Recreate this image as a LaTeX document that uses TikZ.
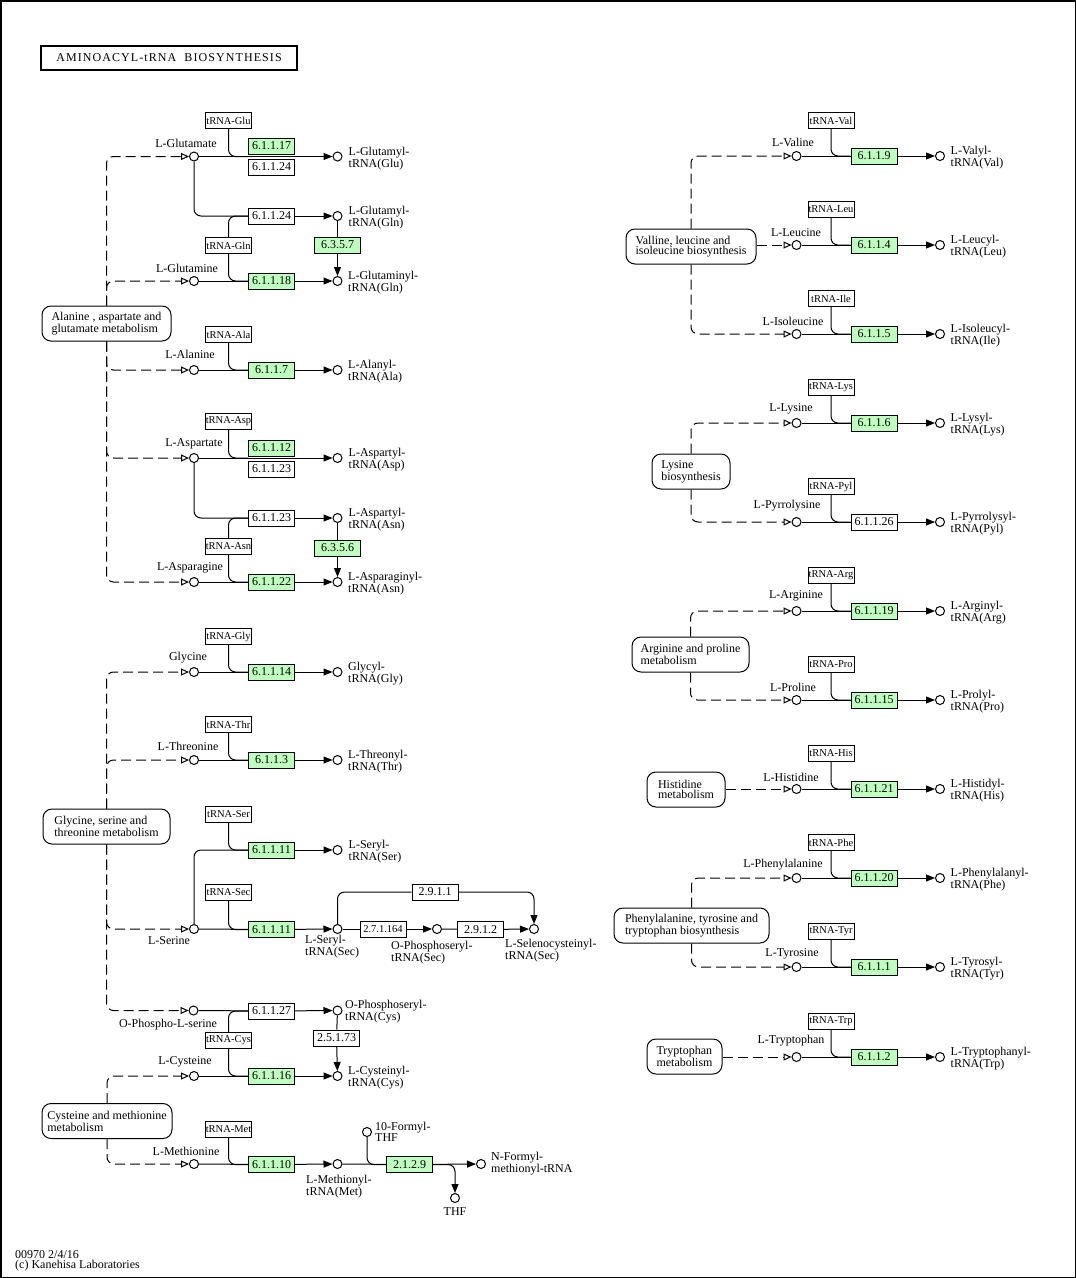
\documentclass[tikz,border=0pt]{standalone}
\usepackage{fontspec}
\setmainfont{Liberation Serif}
\newfontfamily\titlefont[LetterSpace=9]{Liberation Serif}
\usetikzlibrary{arrows.meta,calc}
\definecolor{kgreen}{HTML}{BFFFBF}
\newcommand{\kfs}{\fontsize{12}{10.5}\selectfont}
\newcommand{\kft}{\fontsize{10.5}{10}\selectfont}
\tikzset{
  enz/.style={draw, fill=kgreen, line width=1pt, minimum width=46pt, minimum height=16pt, inner sep=0pt, font=\kfs},
  enzw/.style={enz, fill=white},
  trna/.style={draw, fill=white, line width=1pt, minimum width=46pt, minimum height=16pt, inner sep=0pt, font=\kft},
  cpd/.style={circle, draw, fill=white, line width=1pt, minimum size=9pt, inner sep=0pt},
  lbl/.style={inner sep=0pt, font=\kfs},
  plbl/.style={inner sep=0pt, font=\kfs, align=left, anchor=west},
  mapbox/.style={draw, line width=1pt, rounded corners=9pt, inner sep=0pt, minimum height=35pt, align=left, font=\kfs},
  rx/.style={line width=1pt},
  rc/.style={rounded corners=7pt},
  dsh/.style={line width=1pt, dash pattern=on 10pt off 5pt, rounded corners=7pt},
  arr/.style={-{Triangle[length=9pt,width=7pt]}},
  oarr/.style={-{Triangle[open,length=8pt,width=7pt]}},
}
\newcommand{\rxn}[9]{%
  \node[cpd] (#1s) at (#2,#3) {};
  \node[cpd] (#1p) at (#2+143.5,#3) {};
  \node[#6] (#1e) at (#2+77.5,#3) {#5};
  \node[trna] (#1t) at (#2+34.5,#3-35.5) {#4};
  \node[lbl] (#1a) at (#8) {#7};
  \node[plbl] (#1l) at (#2+154,#3+2) {#9};
  \draw[rx] (#1s) -- (#1e);
  \draw[rx,arr] (#1e) -- (#1p);
  \draw[rx,rc] (#1t.south) |- (#1e.west);
}
\begin{document}
\begin{tikzpicture}[x=1pt,y=-1pt]
\useasboundingbox (0,0) rectangle (1076,1278);
\draw[line width=1.5pt] (0.75,0.75) rectangle (1075.25,1277.25);
% title
\node[draw, line width=2pt, minimum width=256pt, minimum height=24pt, inner sep=0pt, font=\titlefont\fontsize{12}{12}\selectfont] (title) at (169,57.5) {AMINOACYL-tRNA\ \ BIOSYNTHESIS};
\node[inner sep=0pt, align=left, anchor=west, font=\fontsize{12}{10.5}\selectfont] (footer) at (15,1261) {00970 2/4/16\\(c) Kanehisa Laboratories};

% ================= LEFT COLUMN =================
% pathway maps
\node[mapbox, minimum width=129pt] (mapA) at (106.5,323.5) {Alanine , aspartate and\\glutamate metabolism};
\node[mapbox, minimum width=127pt] (mapG) at (106.5,826.5) {Glycine, serine and\\threonine metabolism};
\node[mapbox, minimum width=130pt] (mapC) at (107,1121) {Cysteine and methionine\\metabolism};

% Glutamate
\node[cpd] (glus) at (194,156.5) {};
\node[cpd] (glup) at (337.5,156.5) {};
\node[enz] (e17) at (271.5,146) {6.1.1.17};
\node[enzw] (e24a) at (271.5,167) {6.1.1.24};
\node[trna] (glut) at (228.5,120.5) {tRNA-Glu};
\node[lbl] (glua) at (186,143) {L-Glutamate};
\node[plbl] (glul) at (348.5,158.5) {L-Glutamyl-\\tRNA(Glu)};
\draw[rx,arr] (glus) -- (glup);
\draw[rx,rc] (glut.south) |- (e17.west |- glus);
% Glu -> Gln-tRNA branch
\node[enzw] (e24b) at (271.5,216) {6.1.1.24};
\node[cpd] (gqp) at (337.5,216) {};
\node[plbl] (gql) at (348.5,218) {L-Glutamyl-\\tRNA(Gln)};
\draw[rx,rc] (glus) |- (e24b);
\draw[rx,arr] (e24b) -- (gqp);
% Glutamine
\rxn{gln}{194}{281}{tRNA-Gln}{6.1.1.18}{enz}{L-Glutamine}{187,268}{L-Glutaminyl-\\tRNA(Gln)}
\draw[rx,rc] (glnt.north) |- (e24b.west);
\node[enz] (e357) at (337.5,245) {6.3.5.7};
\draw[rx] (gqp) -- (e357);
\draw[rx,arr] (e357) -- (glnp);

% Alanine
\rxn{ala}{194}{370}{tRNA-Ala}{6.1.1.7}{enz}{L-Alanine}{190,354}{L-Alanyl-\\tRNA(Ala)}

% Aspartate
\node[cpd] (asps) at (194,458) {};
\node[cpd] (aspp) at (337.5,458) {};
\node[enz] (e12) at (271.5,448) {6.1.1.12};
\node[enzw] (e23a) at (271.5,469) {6.1.1.23};
\node[trna] (aspt) at (228.5,421.5) {tRNA-Asp};
\node[lbl] (aspa) at (194,444) {L-Aspartate};
\node[plbl] (aspl) at (348.5,460) {L-Aspartyl-\\tRNA(Asp)};
\draw[rx,arr] (asps) -- (aspp);
\draw[rx,rc] (aspt.south) |- (e12.west |- asps);
% Asp -> Asn-tRNA branch
\node[enzw] (e23b) at (271.5,518) {6.1.1.23};
\node[cpd] (adp) at (337.5,518) {};
\node[plbl] (adl) at (348.5,520) {L-Aspartyl-\\tRNA(Asn)};
\draw[rx,rc] (asps) |- (e23b);
\draw[rx,arr] (e23b) -- (adp);
% Asparagine
\rxn{asn}{194}{582}{tRNA-Asn}{6.1.1.22}{enz}{L-Asparagine}{190,568}{L-Asparaginyl-\\tRNA(Asn)}
\draw[rx,rc] (asnt.north) |- (e23b.west);
\node[enz] (e356) at (337.5,548) {6.3.5.6};
\draw[rx] (adp) -- (e356);
\draw[rx,arr] (e356) -- (asnp);

% Glycine, Threonine
\rxn{gly}{194}{672}{tRNA-Gly}{6.1.1.14}{enz}{Glycine}{188,658}{Glycyl-\\tRNA(Gly)}
\rxn{thr}{194}{760}{tRNA-Thr}{6.1.1.3}{enz}{L-Threonine}{188,746}{L-Threonyl-\\tRNA(Thr)}

% Serine / Sec
\node[cpd] (sers) at (194,929) {};
\node[lbl] (sera) at (169,941) {L-Serine};
\node[enz] (sece) at (271.5,929.5) {6.1.1.11};
\node[trna] (sect) at (228.5,892.5) {tRNA-Sec};
\node[cpd] (secp) at (337.5,929) {};
\node[plbl, anchor=north west] (secl) at (305,935) {L-Seryl-\\tRNA(Sec)};
\draw[rx] (sers) -- (sece);
\draw[rx,arr] (sece) -- (secp);
\draw[rx,rc] (sect.south) |- (sece.west);
% Ser-tRNA(Ser)
\node[enz] (sere) at (271.5,850) {6.1.1.11};
\node[cpd] (serp) at (337.5,850) {};
\node[trna] (sert) at (228.5,814.5) {tRNA-Ser};
\node[plbl] (serl) at (348.5,852) {L-Seryl-\\tRNA(Ser)};
\draw[rx,rc] (sers) |- (sere);
\draw[rx,arr] (sere) -- (serp);
\draw[rx,rc] (sert.south) |- (sere.west);
% Selenocysteine chain
\node[enzw, font=\fontsize{10.5}{10}\selectfont] (e27164) at (383,929) {2.7.1.164};
\node[cpd] (opsec) at (437,929) {};
\node[plbl, anchor=north west] (opsecl) at (391,941) {O-Phosphoseryl-\\tRNA(Sec)};
\node[enzw] (e2912) at (480.5,929.5) {2.9.1.2};
\node[cpd] (selc) at (534,929) {};
\node[plbl, anchor=north west] (selcl) at (505,939) {L-Selenocysteinyl-\\tRNA(Sec)};
\node[enzw] (e2911) at (435,892) {2.9.1.1};
\draw[rx] (secp) -- (e27164);
\draw[rx,arr] (e27164) -- (opsec);
\draw[rx] (opsec) -- (e2912);
\draw[rx,arr] (e2912) -- (selc);
\draw[rx,rc] (secp) |- (e2911);
\draw[rx,rc,arr] (e2911) -| (selc);

% O-Phospho-L-serine
\node[cpd] (opss) at (193.5,1010.5) {};
\node[lbl] (opsa) at (168,1025) {O-Phospho-L-serine};
\node[enzw] (e27) at (271.5,1011) {6.1.1.27};
\node[cpd] (opsp) at (337.5,1010.5) {};
\node[plbl] (opsl) at (345,1012) {O-Phosphoseryl-\\tRNA(Cys)};
\draw[rx] (opss) -- (e27);
\draw[rx,arr] (e27) -- (opsp);
% Cysteine
\rxn{cys}{194}{1076}{tRNA-Cys}{6.1.1.16}{enz}{L-Cysteine}{185,1062}{L-Cysteinyl-\\tRNA(Cys)}
\draw[rx,rc] (cyst.north) |- (e27.west);
\node[enzw] (e25173) at (336.5,1038) {2.5.1.73};
\draw[rx] (opsp) -- (e25173);
\draw[rx,arr] (e25173) -- (cysp);

% Methionine
\node[cpd] (mets) at (194,1164) {};
\node[lbl] (meta) at (186,1151) {L-Methionine};
\node[enz] (mete) at (271.5,1164.5) {6.1.1.10};
\node[trna] (mett) at (228.5,1129) {tRNA-Met};
\node[cpd] (metp) at (337.5,1164) {};
\node[plbl, anchor=north west] (metl) at (306,1175) {L-Methionyl-\\tRNA(Met)};
\draw[rx] (mets) -- (mete);
\draw[rx,arr] (mete) -- (metp);
\draw[rx,rc] (mett.south) |- (mete.west);
\node[enz] (e2129) at (409.5,1164.5) {2.1.2.9};
\node[cpd] (fthf) at (367,1132) {};
\node[plbl] (fthfl) at (375,1132) {10-Formyl-\\THF};
\node[cpd] (nfm) at (481,1164) {};
\node[plbl] (nfml) at (491,1164) {N-Formyl-\\methionyl-tRNA};
\node[cpd] (thf) at (455,1198) {};
\node[lbl] (thfl) at (455,1212) {THF};
\draw[rx] (metp) -- (e2129);
\draw[rx,rc] (fthf) |- (e2129.west);
\draw[rx,arr] (e2129) -- (nfm);
\draw[rx,rc,arr] (e2129.east) -| (thf);

% dashed links (left)
\draw[dsh,oarr] (mapA.north) |- (glus);
\draw[dsh,oarr] (mapA.north) |- (glns);
\draw[dsh,oarr] (mapA.south) |- (alas);
\draw[dsh,oarr] (mapA.south) |- (asps);
\draw[dsh,oarr] (mapA.south) |- (asns);
\draw[dsh,oarr] (mapG.north) |- (glys);
\draw[dsh,oarr] (mapG.north) |- (thrs);
\draw[dsh,oarr] (mapG.south) |- (sers);
\draw[dsh,oarr] (mapG.south) |- (opss);
\draw[dsh,oarr] (mapC.north) |- (cyss);
\draw[dsh,oarr] (mapC.south) |- (mets);

% ================= RIGHT COLUMN =================
\node[mapbox, minimum width=130pt] (mapV) at (691,246.5) {Valline, leucine and\\isoleucine biosynthesis};
\node[mapbox, minimum width=78pt] (mapL) at (691,471.5) {Lysine\\biosynthesis};
\node[mapbox, minimum width=117pt] (mapR) at (690.5,654.5) {Arginine and proline\\metabolism};
\node[mapbox, minimum width=78pt] (mapH) at (686,789.5) {Histidine\\metabolism};
\node[mapbox, minimum width=155pt] (mapF) at (691.5,925.5) {Phenylalanine, tyrosine and\\tryptophan biosynthesis};
\node[mapbox, minimum width=75pt] (mapT) at (684.5,1056.5) {Tryptophan\\metabolism};

\rxn{val}{796.5}{156}{tRNA-Val}{6.1.1.9}{enz}{L-Valine}{793,142}{L-Valyl-\\tRNA(Val)}
\rxn{leu}{796.5}{245}{tRNA-Leu}{6.1.1.4}{enz}{L-Leucine}{796,233}{L-Leucyl-\\tRNA(Leu)}
\rxn{ile}{796.5}{334}{tRNA-Ile}{6.1.1.5}{enz}{L-Isoleucine}{793,321}{L-Isoleucyl-\\tRNA(Ile)}
\rxn{lys}{796.5}{423}{tRNA-Lys}{6.1.1.6}{enz}{L-Lysine}{791,409}{L-Lysyl-\\tRNA(Lys)}
\rxn{pyl}{796.5}{522}{tRNA-Pyl}{6.1.1.26}{enzw}{L-Pyrrolysine}{787,506}{L-Pyrrolysyl-\\tRNA(Pyl)}
\rxn{arg}{796.5}{611}{tRNA-Arg}{6.1.1.19}{enz}{L-Arginine}{796,596}{L-Arginyl-\\tRNA(Arg)}
\rxn{pro}{796.5}{700}{tRNA-Pro}{6.1.1.15}{enz}{L-Proline}{793,687}{L-Prolyl-\\tRNA(Pro)}
\rxn{his}{796.5}{789}{tRNA-His}{6.1.1.21}{enz}{L-Histidine}{791,777}{L-Histidyl-\\tRNA(His)}
\rxn{phe}{796.5}{878}{tRNA-Phe}{6.1.1.20}{enz}{L-Phenylalanine}{783,865}{L-Phenylalanyl-\\tRNA(Phe)}
\rxn{tyr}{796.5}{967}{tRNA-Tyr}{6.1.1.1}{enz}{L-Tyrosine}{792,954}{L-Tyrosyl-\\tRNA(Tyr)}
\rxn{trp}{796.5}{1057}{tRNA-Trp}{6.1.1.2}{enz}{L-Tryptophan}{791,1041}{L-Tryptophanyl-\\tRNA(Trp)}

% dashed links (right)
\draw[dsh,oarr] (mapV.north) |- (vals);
\draw[dsh,oarr] (mapV.east |- leus) -- (leus);
\draw[dsh,oarr] (mapV.south) |- (iles);
\draw[dsh,oarr] (mapL.north) |- (lyss);
\draw[dsh,oarr] (mapL.south) |- (pyls);
\draw[dsh,oarr] (mapR.north) |- (args);
\draw[dsh,oarr] (mapR.south) |- (pros);
\draw[dsh,oarr] (mapH.east |- hiss) -- (hiss);
\draw[dsh,oarr] (mapF.north) |- (phes);
\draw[dsh,oarr] (mapF.south) |- (tyrs);
\draw[dsh,oarr] (mapT.east |- trps) -- (trps);
\end{tikzpicture}
\end{document}
